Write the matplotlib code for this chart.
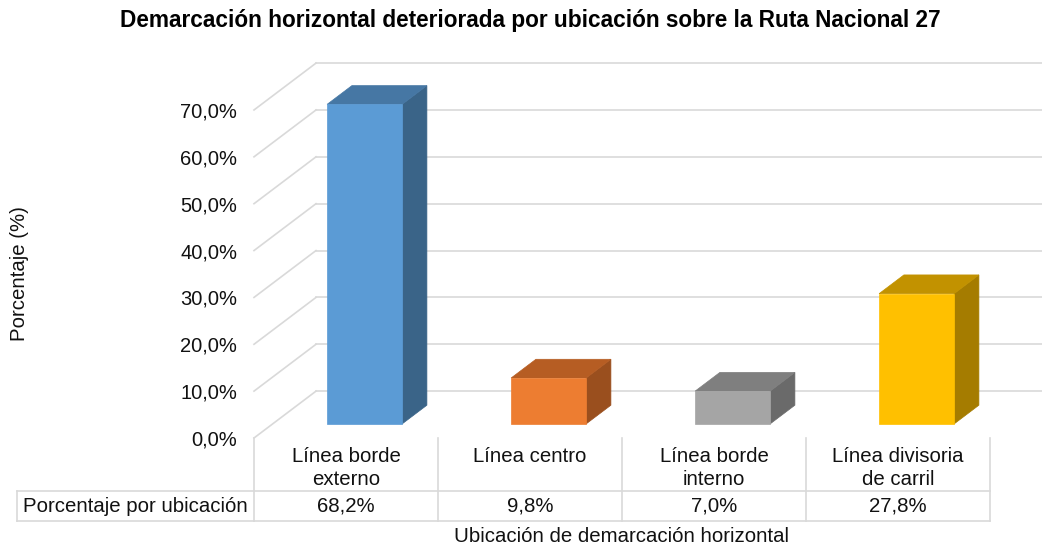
import matplotlib.pyplot as plt
from matplotlib.patches import Polygon
from matplotlib.transforms import blended_transform_factory

plt.rcParams['font.family'] = ['Liberation Sans', 'DejaVu Sans']

# data
categories = ["Línea borde\nexterno", "Línea centro", "Línea borde\ninterno", "Línea divisoria\nde carril"]
values = [68.2, 9.8, 7.0, 27.8]
value_labels = ["68,2%", "9,8%", "7,0%", "27,8%"]
yticks = [0, 10, 20, 30, 40, 50, 60, 70]
ytick_labels = ["0,0%", "10,0%", "20,0%", "30,0%", "40,0%", "50,0%", "60,0%", "70,0%"]

front_colors = ["#5B9BD5", "#ED7D31", "#A5A5A5", "#FFC000"]
top_colors = ["#4677A4", "#B65D23", "#7F7F7F", "#C29200"]
side_colors = ["#3A6488", "#9A4F1E", "#6A6A6A", "#A57C00"]

W, H = 1042, 548
fig = plt.figure(figsize=(W / 100, H / 100), dpi=100)

# plot area in pixels: 0% front edge at y=438, one category = 184 px
x0_px, y0_px = 254, 438
cat_px = 184.0
pct_px = 4.686
xmax = (W - x0_px) / cat_px
ymax = 80.5
ax = fig.add_axes([x0_px / W, (H - y0_px) / H, (W - x0_px) / W, ymax * pct_px / H])
ax.set_xlim(0, xmax)
ax.set_ylim(0, ymax)
for s in ax.spines.values():
    s.set_visible(False)
ax.set_xticks([])

# oblique depth offset (full depth of the floor)
DX = 62 / cat_px
DY = 10.0
grid_c = "#D9D9D9"
txt_c = "#111111"
fs = 14.7


def P(u, v, d):
    return (u + d * DX, v + d * DY)


n = len(values)
for v in yticks:
    # back wall
    a, b = P(0, v, 1), P(n, v, 1)
    ax.plot([a[0], b[0]], [a[1], b[1]], color=grid_c, lw=1.2, zorder=1, clip_on=True)
    # side wall
    a, b = P(0, v, 0), P(0, v, 1)
    ax.plot([a[0], b[0]], [a[1], b[1]], color=grid_c, lw=1.2, zorder=1, clip_on=False)

ax.set_yticks(yticks)
ax.set_yticklabels(ytick_labels, fontsize=14.5, color=txt_c)
ax.tick_params(axis="y", length=0, pad=12)

# 3D bars
bw = 75 / cat_px
d0, d1 = 0.3, 0.7
for i, val in enumerate(values):
    u0 = i + (1 - bw) / 2
    u1 = u0 + bw
    front = [P(u0, 0, d0), P(u1, 0, d0), P(u1, val, d0), P(u0, val, d0)]
    top = [P(u0, val, d0), P(u1, val, d0), P(u1, val, d1), P(u0, val, d1)]
    side = [P(u1, 0, d0), P(u1, 0, d1), P(u1, val, d1), P(u1, val, d0)]
    ax.add_patch(Polygon(side, closed=True, fc=side_colors[i], ec=side_colors[i], lw=0.5, zorder=3))
    ax.add_patch(Polygon(top, closed=True, fc=top_colors[i], ec=top_colors[i], lw=0.5, zorder=3))
    ax.add_patch(Polygon(front, closed=True, fc=front_colors[i], ec=front_colors[i], lw=0.5, zorder=4))

# data table below the plot (x in category units, y in figure fraction)
tr = blended_transform_factory(ax.transData, fig.transFigure)


def fy(py):
    return 1 - py / H


row_top, row_mid, row_bot = 438, 491, 521
for i in range(n + 1):
    fig.add_artist(plt.Line2D([i, i], [fy(row_top), fy(row_bot)], transform=tr, color=grid_c, lw=1.2))
for py in (row_mid, row_bot):
    fig.add_artist(plt.Line2D([17 / W, x0_px / W], [fy(py), fy(py)], transform=fig.transFigure, color=grid_c, lw=1.2))
    fig.add_artist(plt.Line2D([0, n], [fy(py), fy(py)], transform=tr, color=grid_c, lw=1.2))
fig.add_artist(plt.Line2D([17 / W, 17 / W], [fy(row_mid), fy(row_bot)], transform=fig.transFigure, color=grid_c, lw=1.2))

for i, cat in enumerate(categories):
    fig.text(i + 0.5, fy(447), cat, transform=tr, ha="center", va="top", fontsize=fs,
             linespacing=1.28, color=txt_c)
    fig.text(i + 0.5, fy(506), value_labels[i], transform=tr, ha="center", va="center",
             fontsize=fs, color=txt_c)
fig.text(23 / W, fy(506), "Porcentaje por ubicación", ha="left", va="center", fontsize=fs, color=txt_c)

fig.text(2.0, fy(537), "Ubicación de demarcación horizontal", transform=tr, ha="center", va="center",
         fontsize=fs, color=txt_c)
fig.text(20 / W, fy(274), "Porcentaje (%)", rotation=90, ha="center", va="center", fontsize=fs, color=txt_c)
fig.text(530 / W, fy(20), "Demarcación horizontal deteriorada por ubicación sobre la Ruta Nacional 27",
         ha="center", va="center", fontsize=16.3, fontweight="bold", color="black")

fig.savefig("out.png", dpi=100)
